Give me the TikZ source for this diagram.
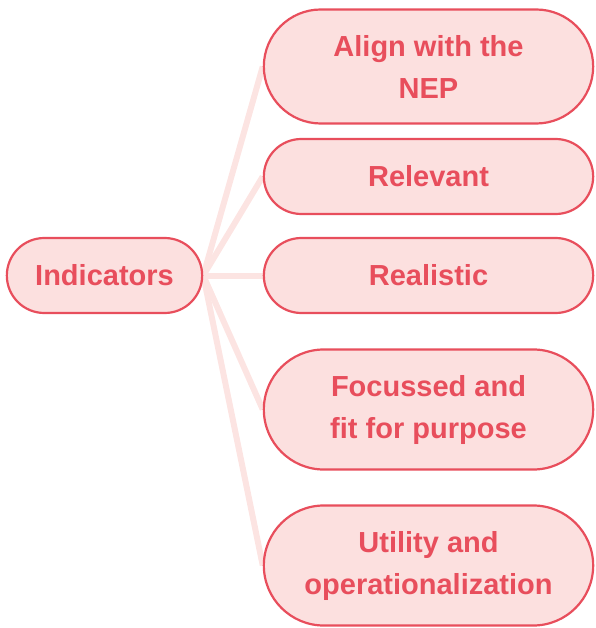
\documentclass[tikz,border=0pt]{standalone}
\usepackage{fontspec}
\setmainfont{Liberation Sans}
\usetikzlibrary{positioning,shapes.misc,backgrounds}
\definecolor{rim}{HTML}{E84E5C}
\definecolor{pale}{HTML}{FCE0DF}
\definecolor{link}{HTML}{FCE4E2}

\begin{document}
\begin{tikzpicture}[x=1pt,y=1pt,node distance=100pt,on grid]
\tikzstyle{topic}=[rounded rectangle,line width=2.2pt,draw=rim,fill=pale,text=rim,font=\bfseries\fontsize{29}{42}\selectfont,align=center,inner ysep=25.5pt,minimum height=75pt]
\tikzstyle{item}=[topic,minimum width=336pt]
\tikzstyle{branch}=[line width=6pt,draw=link]
	\useasboundingbox (0,0) rectangle (595,-628);

	\node[topic,minimum width=202pt] 	(ind)	at (104.5,-275.5)	{Indicators};
	\node[item]		(nep)	[above right=209pt and 324pt of ind]	{Align with the\\NEP};
	\node[item]		(rel)	[above right=99pt and 324pt of ind]	{Relevant};
	\node[item]		(real)	[right=324pt of ind]	{Realistic};
	\node[item]		(foc)	[below right=134pt and 324pt of ind]	{Focussed and\\fit for purpose};
	\node[item]		(util)	[below right=290pt and 324pt of ind]	{Utility and\\operationalization};

	\begin{scope}[on background layer]
	\path[branch]	(ind.east) edge (nep.west)
				(ind.east) edge (rel.west)
				(ind.east) edge (real.west)
				(ind.east) edge (foc.west)
				(ind.east) edge (util.west);
	\end{scope}
\end{tikzpicture}
\end{document}
